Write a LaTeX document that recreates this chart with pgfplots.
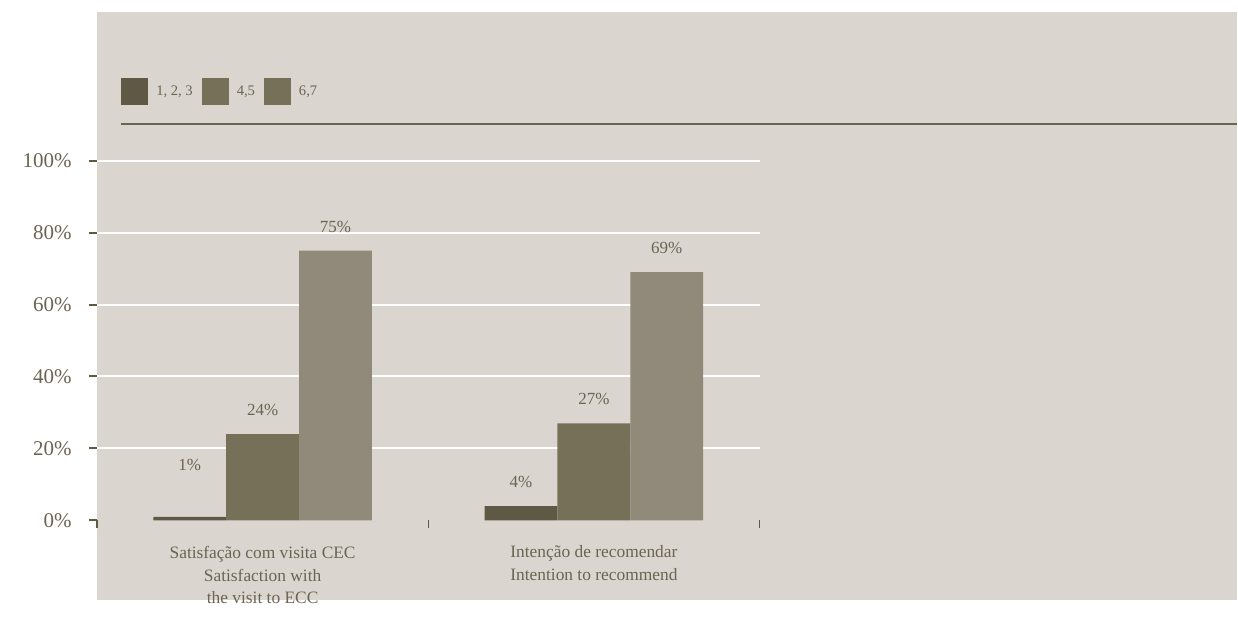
\documentclass[border=0pt]{standalone}
\usepackage{fontspec}
\setmainfont{Liberation Serif}
\usepackage{pgfplots}
\pgfplotsset{compat=1.18}
\usepackage{pgfplotstable}
\definecolor{bg}{HTML}{DAD6CF}
\definecolor{c1}{HTML}{5F5845}
\definecolor{c2}{HTML}{777059}
\definecolor{c3}{HTML}{918A7A}
\definecolor{txt}{HTML}{6B6452}
\definecolor{rulec}{HTML}{6B6450}

\pgfplotstableread{
x y off
0 1 26
1 4 12
}\lowtab
\pgfplotstableread{
x y off
0 24 12
1 27 12
}\midtab
\pgfplotstableread{
x y off
0 75 12
1 69 12
}\hightab

\begin{document}
\begin{tikzpicture}[x=1pt,y=1pt]
\path (0,0) rectangle (619,314.5);
\fill[bg] (48.5,14.5) rectangle (619,308.5);
\draw[rulec, line width=0.75pt] (60.5,252.5) -- (619,252.5);
\begin{axis}[
  at={(48.5pt,54.15pt)}, anchor=south west,
  scale only axis, width=331.5pt, height=180pt,
  xmin=-0.5, xmax=1.5, ymin=0, ymax=100,
  ybar, bar width=0.22,
  /pgf/number format/assume math mode=true,
  axis line style={draw=none},
  tick align=outside, tick pos=left,
  major tick length=4pt,
  y tick style={c1, line width=1pt},
  x tick style={c1, line width=0.6pt},
  ytick={0,20,...,100},
  yticklabel={\pgfmathprintnumber{\tick}\%},
  yticklabel style={font=\fontsize{10.5}{12}\selectfont, text=txt, inner sep=0pt, xshift=-8.5pt},
  minor ytick={20,40,...,100},
  minor tick length=0pt,
  yminorgrids,
  minor grid style={white, line width=1pt},
  xtick={-0.5,0.5,1.5},
  xticklabels={},
  extra x ticks={0,1},
  extra x tick labels={{Satisfação com visita CEC\\Satisfaction with\\the visit to ECC},{Intenção de recomendar\\Intention to recommend}},
  extra x tick style={major tick length=0pt},
  xticklabel style={align=center, font=\fontsize{8.7}{11.5}\selectfont, text=txt, inner sep=0pt, yshift=-12.5pt},
  legend style={at={(0.0362,1.1908)}, anchor=west, draw=none, fill=none, inner sep=0pt,
    legend columns=3, font=\fontsize{7.3}{9}\selectfont, text=txt,
    nodes={inner sep=0pt},
    /tikz/every odd column/.append style={column sep=4pt},
    /tikz/every even column/.append style={column sep=4.5pt}},
  legend image code/.code={\fill[#1] (0pt,-6.75pt) rectangle (13.5pt,6.75pt);},
  nodes near coords={\pgfmathprintnumber{\pgfplotspointmeta}\%},
  visualization depends on={\thisrow{off}\as\off},
  every node near coord/.append style={anchor=center, yshift=\off pt, font=\fontsize{8.5}{10}\selectfont, text=txt},
]
\addplot[bar shift=-0.22, fill=c1, draw=none] table[x=x,y=y]{\lowtab};
\addlegendentry{1, 2, 3}
\addplot[bar shift=0, fill=c2, draw=none] table[x=x,y=y]{\midtab};
\addlegendentry{4,5}
\addplot[bar shift=0.22, fill=c3, draw=none,
  legend image code/.code={\fill[c2] (0pt,-6.75pt) rectangle (13.5pt,6.75pt);}] table[x=x,y=y]{\hightab};
\addlegendentry{6,7}
\end{axis}
\end{tikzpicture}
\end{document}
